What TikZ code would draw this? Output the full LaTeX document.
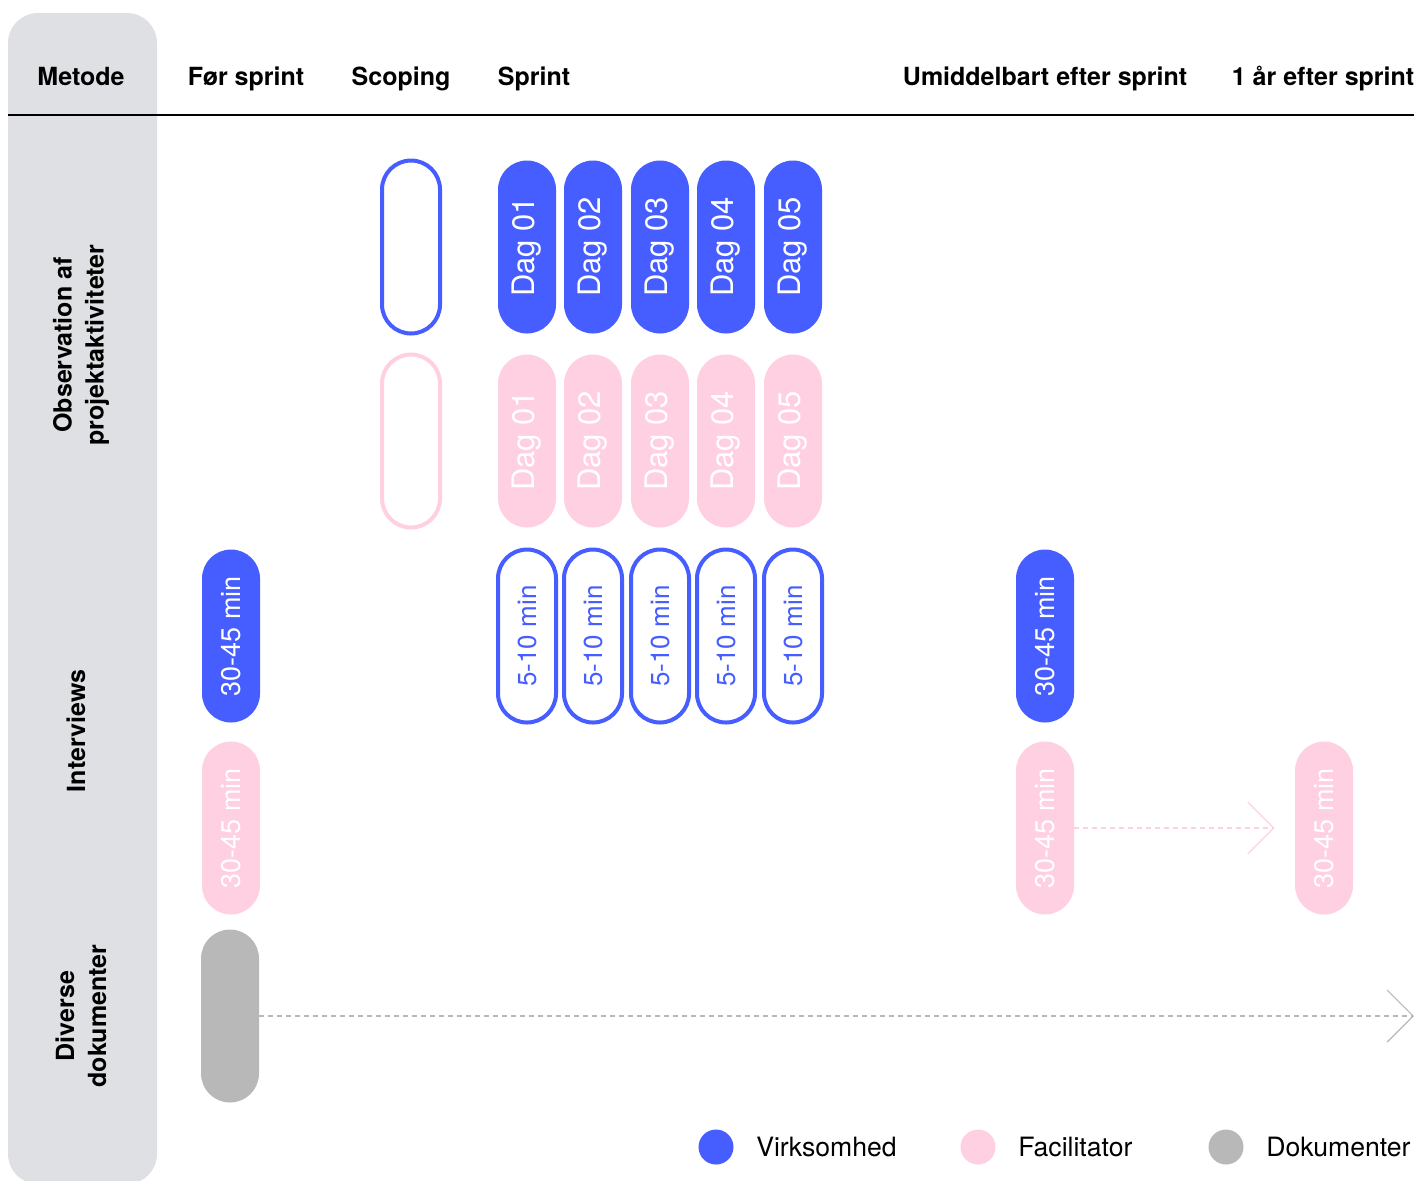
\documentclass[tikz,border=0pt]{standalone}
\usepackage{fontspec}
\setmainfont{TeX Gyre Heros}
\usetikzlibrary{arrows.meta,positioning}
\definecolor{virk}{RGB}{70,93,255}
\definecolor{facil}{RGB}{255,207,226}
\definecolor{doku}{RGB}{184,184,184}
\definecolor{panel}{RGB}{223,224,227}
\tikzset{
    head/.style={font=\bfseries\fontsize{12.5}{15}\selectfont, inner sep=0pt, anchor=base},
    rowlabel/.style={rotate=90, inner sep=0pt, align=center, font=\bfseries\fontsize{12.5}{16}\selectfont},
    pill/.style={rectangle, rotate=90, inner sep=0pt, minimum width=86.5pt, minimum height=29pt, rounded corners=14.5pt},
    firm/.style={pill, fill=virk, text=white},
    firmline/.style={pill, draw=virk, line width=2pt, text=virk},
    facil/.style={pill, fill=facil, text=white},
    facilline/.style={pill, draw=facil, line width=2pt},
    docs/.style={pill, fill=doku},
    dagtext/.style={font=\fontsize{15.5}{15.5}\selectfont},
    mintext/.style={font=\fontsize{13.5}{13.5}\selectfont},
    korttext/.style={font=\fontsize{13}{13}\selectfont},
    facilarrow/.style={draw=facil, line width=0.6pt, dash pattern=on 2.5pt off 2pt, -{Straight Barb[length=13pt,width=26pt]}, shorten >=10pt},
    docarrow/.style={draw=doku, line width=0.6pt, dash pattern=on 2.5pt off 2pt, -{Straight Barb[length=13pt,width=26pt]}},
    dot/.style={circle, inner sep=0pt, minimum size=17.5pt},
    legendtext/.style={font=\fontsize{13.3}{15}\selectfont, inner sep=0pt}
}
\begin{document}
\begin{tikzpicture}[x=0.5pt,y=-0.5pt]
    \useasboundingbox (0,0) rectangle (1416,1180);
    \fill[panel, rounded corners=15pt] (8,13) rectangle (157,1184);
    \draw[line width=0.7pt] (8,115) -- (1414,115);
    % column heads
    \node[head] (hMetode) at (81,85) {Metode};
    \node[head] (hFoer) at (246,85) {Før sprint};
    \node[head] (hScope) at (401,85) {Scoping};
    \node[head] (hSprint) at (534,85) {Sprint};
    \node[head] (hUmid) at (1045,85) {Umiddelbart efter sprint};
    \node[head] (hAar) at (1323,85) {1 år efter sprint};
    % row heads
    \node[rowlabel] (rObs) at (81,345) {Observation af\\projektaktiviteter};
    \node[rowlabel] (rInt) at (76,731) {Interviews};
    \node[rowlabel] (rDoc) at (81,1016) {Diverse\\dokumenter};
    % observation
    \node[firmline] (scopeFirm) at (411,247) {};
    \node[facilline] (scopeFacil) at (411,441) {};
    \foreach \i/\x in {1/527,2/593,3/660,4/726,5/793} {
        \node[firm, dagtext] (dagFirm\i) at (\x,247) {Dag 0\i};
        \node[facil, dagtext] (dagFacil\i) at (\x,441) {Dag 0\i};
        \node[firmline, korttext] (kortFirm\i) at (\x,636) {5-10 min};
    }
    % interviews
    \node[firm, mintext] (intFirmFoer) at (231,636) {30-45 min};
    \node[facil, mintext] (intFacilFoer) at (231,828) {30-45 min};
    \node[firm, mintext] (intFirmUmid) at (1045,636) {30-45 min};
    \node[facil, mintext] (intFacilUmid) at (1045,828) {30-45 min};
    \node[facil, mintext] (intFacilAar) at (1324,828) {30-45 min};
    \draw[facilarrow] (intFacilUmid) -- (intFacilAar);
    % documents
    \node[docs] (docPill) at (230,1016) {};
    \coordinate (docEnd) at (1414,1016);
    \draw[docarrow] (docPill) -- (docEnd);
    % legend
    \node[dot, fill=virk] (dotVirk) at (716,1147) {};
    \node[legendtext, right=11pt of dotVirk] (lgVirk) {Virksomhed};
    \node[dot, fill=facil] (dotFacil) at (978,1147) {};
    \node[legendtext, right=11pt of dotFacil] (lgFacil) {Facilitator};
    \node[dot, fill=doku] (dotDoku) at (1226,1147) {};
    \node[legendtext, right=11pt of dotDoku] (lgDoku) {Dokumenter};
\end{tikzpicture}
\end{document}
